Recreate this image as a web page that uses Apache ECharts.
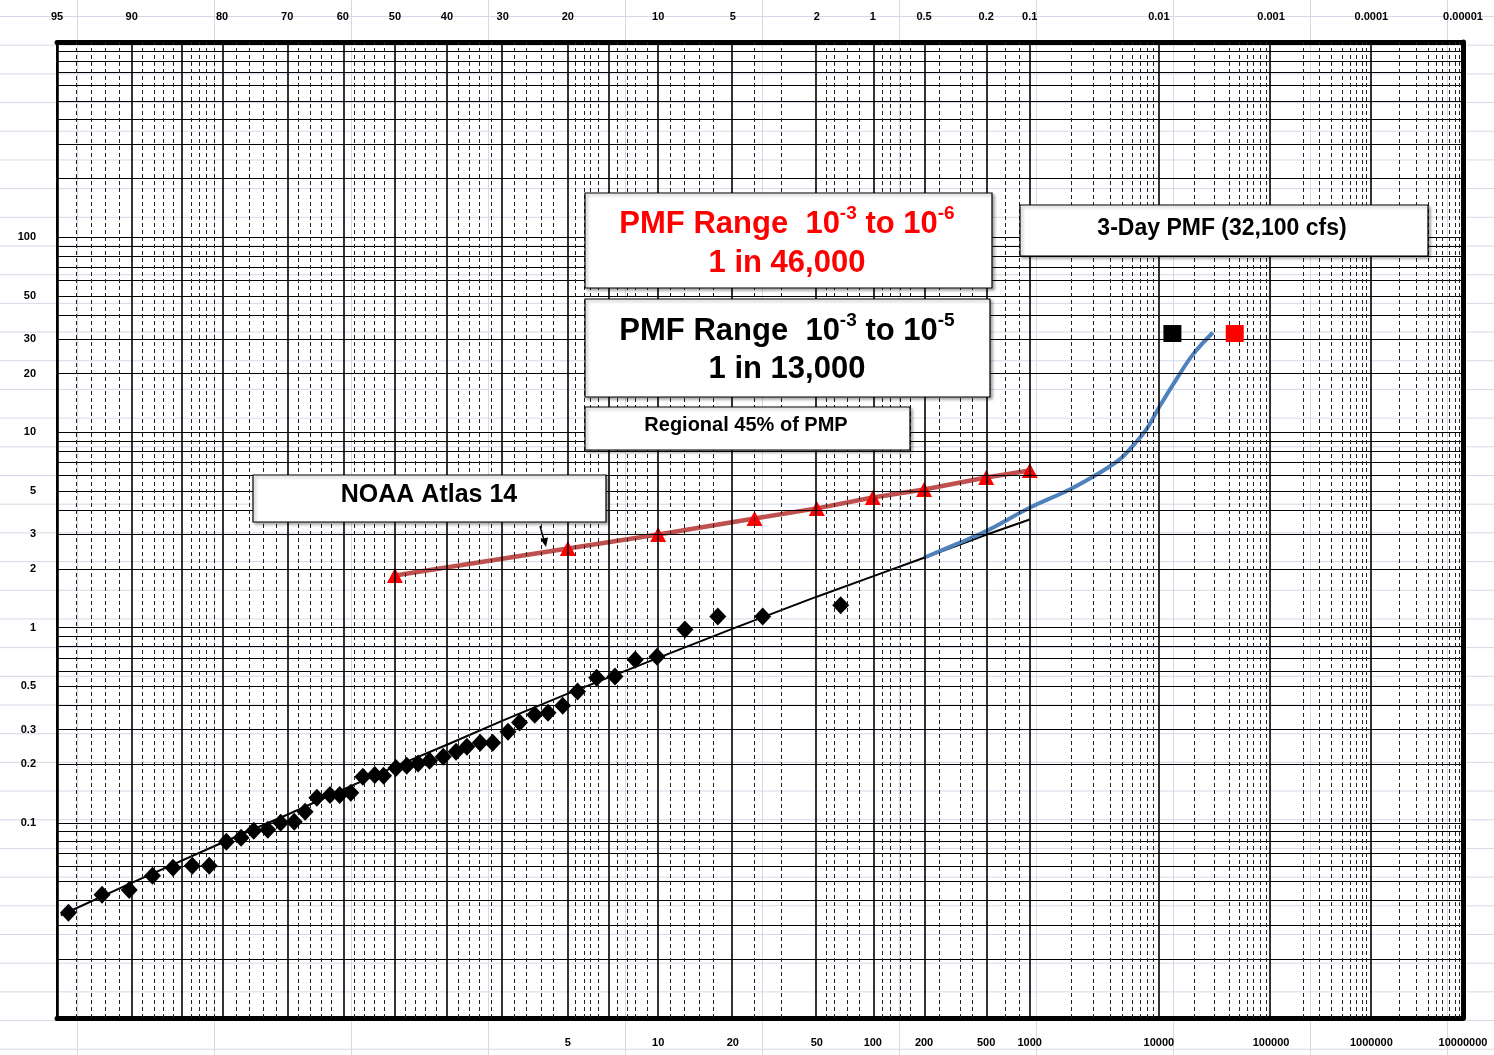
<!DOCTYPE html>
<html><head><meta charset="utf-8">
<script src="https://cdn.jsdelivr.net/npm/echarts@6.0.0/dist/echarts.min.js"></script>
<style>
html,body{margin:0;padding:0;background:#fff;}
#chart{width:1494px;height:1055px;background-color:#fff;
 background-image:linear-gradient(to right,#d3d9e6 1px,transparent 1px),linear-gradient(to bottom,#d3d9e6 1px,transparent 1px);
 background-size:137px 100%,100% 28.7px;background-position:77px 0,0 16px;}
</style></head>
<body><div id="chart"></div>
<script>
// ---------------- data ----------------
const topTickLabels = ['95','90','80','70','60','50','40','30','20','10','5','2','1','0.5','0.2','0.1','0.01','0.001','0.0001','0.00001']; // exceedance %
const bottomTickLabels = ['5','10','20','50','100','200','500','1000','10000','100000','1000000','10000000']; // return period
const leftTickLabels = ['0.1','0.2','0.3','0.5','1','2','3','5','10','20','30','50','100'];

const majorGridExceedPct = [95,90,85,80,70,60,50,40,30,20,15,10,5,2,1,0.5,0.2,0.1,0.01,0.001,0.0001,0.00001];
const minorGridExceedPct = [94,93,92,91,89,88,87,86,84,83,82,81,78,76,74,72,68,66,64,62,58,56,54,52,48,46,44,42,38,36,34,32,28,26,24,22,19,18,17,16,14,13,12,11,9,8,7,6,4,3,1.8,1.6,1.4,1.2,0.9,0.8,0.7,0.6,0.4,0.3,0.25,0.15,0.12];
const minorGridReturnPeriod = [2000,3000,4000,5000,6000,7000,8000,9000,20000,30000,40000,50000,60000,70000,80000,90000,200000,300000,400000,500000,600000,700000,800000,900000,2000000,3000000,4000000,5000000,6000000,7000000,8000000,9000000];
const hGridValues = [0.02,0.03,0.04,0.05,0.06,0.07,0.08,0.09,0.1,0.2,0.3,0.4,0.5,0.6,0.7,0.8,0.9,1,2,3,4,5,6,7,8,9,10,20,30,40,50,60,70,80,90,100,200,300,400,500,600,700,800,900];

// observed annual peaks (plotting position as exceedance %, value)
const obsExceedPct = [94.4,92.3,90.2,88.1,86.0,83.8,81.7,79.4,77.3,75.4,73.2,71.1,68.8,66.9,64.8,62.4,60.6,58.5,56.2,53.9,52.2,49.8,47.7,45.5,43.3,40.7,38.3,36.3,33.9,31.7,29.1,27.2,24.8,22.8,20.7,18.7,16.3,14.2,12.1,10.1,7.9,5.8,3.67,1.5];
const obsValue = [0.0346,0.0428,0.0453,0.0535,0.0588,0.0602,0.0602,0.0799,0.0838,0.091,0.0921,0.100,0.1012,0.1139,0.1343,0.139,0.139,0.1425,0.172,0.176,0.174,0.191,0.196,0.201,0.208,0.218,0.231,0.245,0.257,0.257,0.293,0.326,0.358,0.366,0.398,0.470,0.554,0.561,0.685,0.710,0.977,1.14,1.14,1.30];

// fitted frequency curve
const fitExceedPct = [94.8,90,80,70,60,50,40,30,20,10,5,2,1,0.5,0.2,0.1];
const fitValue = [0.0336,0.0492,0.079,0.110,0.148,0.194,0.251,0.334,0.459,0.70,0.988,1.44,1.83,2.28,2.99,3.58];

// NOAA Atlas 14
const noaaReturnPeriod = [2,5,10,25,50,100,200,500,1000];
const noaaValue = [1.85,2.54,3.0,3.62,4.08,4.64,5.10,5.88,6.38];

// Regional 45% of PMP curve
const pmpReturnPeriod = [200,334,500,1000,1960,3320,4780,6070,7870,10150,14040,19540,29240];
const pmpValue = [2.28,2.72,3.12,4.11,5.10,6.21,7.27,8.51,10.36,13.6,18.7,25.1,32.5];

// 3-Day PMF markers
const pmfReturnPeriod = [13000, 46000];
const pmfValue = [32.1, 32.1];

// ---------------- scale helpers ----------------
function probit(p){
  const a=[-3.969683028665376e+01,2.209460984245205e+02,-2.759285104469687e+02,1.383577518672690e+02,-3.066479806614716e+01,2.506628277459239e+00];
  const b=[-5.447609879822406e+01,1.615858368580409e+02,-1.556989798598866e+02,6.680131188771972e+01,-1.328068155288572e+01];
  const c=[-7.784894002430293e-03,-3.223964580411365e-01,-2.400758277161838e+00,-2.549732539343734e+00,4.374664141464968e+00,2.938163982698783e+00];
  const d=[7.784695709041462e-03,3.224671290700398e-01,2.445134137142996e+00,3.754408661907416e+00];
  const pl=0.02425, ph=1-pl; let q,r;
  if(p<pl){q=Math.sqrt(-2*Math.log(p));return (((((c[0]*q+c[1])*q+c[2])*q+c[3])*q+c[4])*q+c[5])/((((d[0]*q+d[1])*q+d[2])*q+d[3])*q+1);}
  if(p<=ph){q=p-0.5;r=q*q;return (((((a[0]*r+a[1])*r+a[2])*r+a[3])*r+a[4])*r+a[5])*q/(((((b[0]*r+b[1])*r+b[2])*r+b[3])*r+b[4])*r+1);}
  q=Math.sqrt(-2*Math.log(1-p));return -(((((c[0]*q+c[1])*q+c[2])*q+c[3])*q+c[4])*q+c[5])/((((d[0]*q+d[1])*q+d[2])*q+d[3])*q+1);
}
const zExc = pct => -probit(pct/100);
const zT = T => zExc(100/T);
const Z_MIN = zExc(95), Z_MAX = zExc(0.00001);
function labelFor(list, toPos, value){
  for (const l of list) if (Math.abs(toPos(l)-value) < 1e-6) return l;
  return '';
}
const FONT = '"Liberation Sans", Arial, sans-serif';
const tickFont = {fontFamily:FONT, fontSize:11, fontWeight:'bold', color:'#000'};

const topZ = topTickLabels.map(s=>zExc(Number(s)));
const botZ = bottomTickLabels.map(s=>zT(Number(s)));
const leftLog = leftTickLabels.map(s=>Math.log10(Number(s)));

const vMajor = majorGridExceedPct.map(zExc);
const vMinor = minorGridExceedPct.map(zExc).concat(minorGridReturnPeriod.map(zT));

const chart = echarts.init(document.getElementById('chart'), null, {renderer:'canvas'});

function mk(lines, style){
  return {silent:true, symbol:['none','none'], label:{show:false}, emphasis:{disabled:true},
    animation:false, lineStyle:style, data:lines};
}
function box(x,y,w,h){
  return {type:'rect', z:100, shape:{x,y,width:w,height:h},
    style:{fill:'#fff', stroke:'#000', lineWidth:1.2, shadowColor:'rgba(0,0,0,0.35)', shadowOffsetX:2, shadowOffsetY:2, shadowBlur:3}};
}
function rtxt(x,y,text,rich){
  return {type:'text', z:101, x, y, style:{text, align:'center', verticalAlign:'middle', rich}};
}
function ptxt(x,y,text,size){
  return {type:'text', z:101, x, y, style:{text, align:'center', verticalAlign:'middle', font:'bold '+size+'px '+FONT, fill:'#000'}};
}
const supRich = color => ({
  a:{fontFamily:FONT, fontSize:31, fontWeight:'bold', fill:color, lineHeight:36, verticalAlign:'bottom'},
  s:{fontFamily:FONT, fontSize:19, fontWeight:'bold', fill:color, lineHeight:21, verticalAlign:'top'}
});

const option = {
  animation:false,
  backgroundColor:'transparent',
  grid:{left:57, top:42, right:31, bottom:37, containLabel:false},
  xAxis:[
    {type:'value', position:'bottom', min:Z_MIN, max:Z_MAX, splitLine:{show:false}, axisTick:{show:false},
     axisLine:{show:true, onZero:false, lineStyle:{color:'#000', width:5}},
     axisLabel:Object.assign({customValues:botZ, margin:19, formatter:v=>labelFor(bottomTickLabels, s=>zT(Number(s)), v)}, tickFont)},
    {type:'value', position:'top', min:Z_MIN, max:Z_MAX, splitLine:{show:false}, axisTick:{show:false},
     axisLine:{show:true, onZero:false, lineStyle:{color:'#000', width:5}},
     axisLabel:Object.assign({customValues:topZ, margin:20, formatter:v=>labelFor(topTickLabels, s=>zExc(Number(s)), v)}, tickFont)}
  ],
  yAxis:[
    {type:'log', logBase:10, min:0.01, max:1000, position:'left', splitLine:{show:false}, axisTick:{show:false},
     axisLabel:{show:false}, axisLine:{show:true, onZero:false, lineStyle:{color:'#000', width:2}}},
    {type:'value', min:-2, max:3, position:'left', splitLine:{show:false}, axisTick:{show:false},
     axisLine:{show:false},
     axisLabel:Object.assign({customValues:leftLog, margin:21, formatter:v=>labelFor(leftTickLabels, s=>Math.log10(Number(s)), v)}, tickFont)},
    {type:'value', min:0, max:1, position:'right', splitLine:{show:false}, axisTick:{show:false},
     axisLabel:{show:false}, axisLine:{show:true, onZero:false, lineStyle:{color:'#000', width:5}}}
  ],
  series:[
    {type:'line', name:'hgrid', xAxisIndex:0, yAxisIndex:0, data:[], z:1, silent:true,
     markLine:mk(hGridValues.map(v=>({yAxis:v})), {color:'#000', width:1, type:'solid'})},
    {type:'line', name:'vminor', xAxisIndex:0, yAxisIndex:0, data:[], z:1, silent:true,
     markLine:mk(vMinor.map(z=>({xAxis:z})), {color:'#222', width:1, type:[4,3]})},
    {type:'line', name:'vmajor', xAxisIndex:0, yAxisIndex:0, data:[], z:1, silent:true,
     markLine:mk(vMajor.map(z=>({xAxis:z})), {color:'#000', width:1.6, type:'solid'})},
    {type:'line', name:'Fitted curve', xAxisIndex:0, yAxisIndex:0, z:3, showSymbol:false, symbol:'none',
     lineStyle:{color:'#000', width:2}, data:fitExceedPct.map((p,i)=>[zExc(p), fitValue[i]])},
    {type:'line', name:'Regional 45% of PMP', xAxisIndex:0, yAxisIndex:0, z:3, symbol:'none', smooth:0.35,
     lineStyle:{color:'#4F81BD', width:4}, data:pmpReturnPeriod.map((T,i)=>[zT(T), pmpValue[i]])},
    {type:'line', name:'NOAA Atlas 14', xAxisIndex:0, yAxisIndex:0, z:4, symbol:'triangle', symbolSize:[16,15],
     lineStyle:{color:'#C0504D', width:4.5}, itemStyle:{color:'#ff0000', opacity:1},
     data:noaaReturnPeriod.map((T,i)=>[zT(T), noaaValue[i]])},
    {type:'scatter', name:'Observed', xAxisIndex:0, yAxisIndex:0, z:5, symbol:'diamond', symbolSize:[17,18],
     itemStyle:{color:'#000', opacity:1}, data:obsExceedPct.map((p,i)=>[zExc(p), obsValue[i]])},
    {type:'scatter', name:'3-Day PMF', xAxisIndex:0, yAxisIndex:0, z:5, symbol:'rect', symbolSize:[18,17],
     itemStyle:{color:(p)=>p.dataIndex===0?'#000':'#ff0000', opacity:1},
     data:pmfReturnPeriod.map((T,i)=>[zT(T), pmfValue[i]])}
  ],
  graphic:[
    box(585,193,407,95),
    rtxt(787,222,'{a|PMF Range  10}{s|-3}{a| to 10}{s|-6}', supRich('#ff0000')),
    rtxt(787,261,'{a|1 in 46,000}', supRich('#ff0000')),
    box(585,299,405,98),
    rtxt(787,329,'{a|PMF Range  10}{s|-3}{a| to 10}{s|-5}', supRich('#000')),
    rtxt(787,367,'{a|1 in 13,000}', supRich('#000')),
    box(585,407,325,43),
    ptxt(746,425,'Regional 45% of PMP',20),
    box(1020,205,408,51),
    ptxt(1222,229,'3-Day PMF (32,100 cfs)',23),
    box(253,475,353,47),
    ptxt(429,495,'NOAA Atlas 14',25),
    {type:'polyline', z:101, shape:{points:[[540,526],[545,544]]}, style:{stroke:'#000', lineWidth:1.5}},
    {type:'polygon', z:101, shape:{points:[[540.5,539],[548,537.5],[546,547]]}, style:{fill:'#000'}}
  ]
};
chart.setOption(option);
</script></body></html>
